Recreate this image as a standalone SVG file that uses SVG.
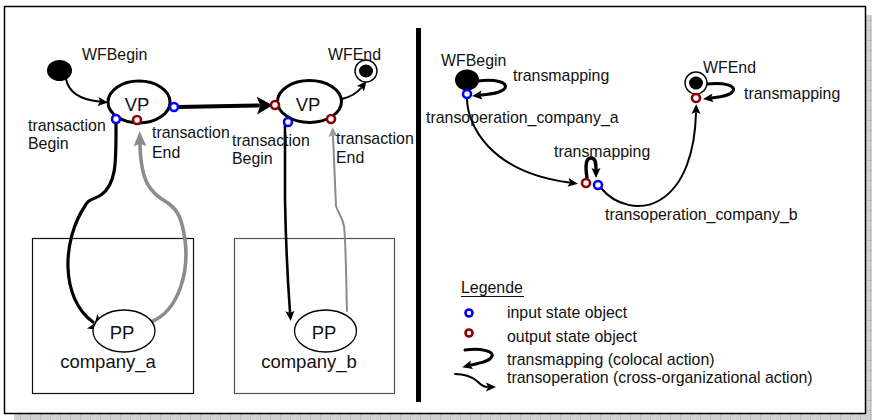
<svg xmlns="http://www.w3.org/2000/svg" width="872" height="420" viewBox="0 0 872 420">
  <style>
    text { font-family: "Liberation Sans", Arial, sans-serif; fill: #111; }
    .t { font-size: 15.9px; }
    .big { font-size: 18.5px; }
    .node { fill: #fff; stroke: #000; }
    .vp { stroke-width: 3; }
    .pp { stroke-width: 1.3; }
    .in { fill: #fff; stroke: #0000ff; stroke-width: 2.6; }
    .out { fill: #fff; stroke: #8b0000; stroke-width: 2.6; }
    .flow { fill: none; stroke: #000; stroke-linecap: round; }
    .gray { fill: none; stroke: #8c8c8c; stroke-linecap: round; }
    .box { fill: none; stroke-width: 1.2; }
  </style>
  <defs>
    <pattern id="hatch" width="10" height="10" patternUnits="userSpaceOnUse">
      <rect width="10" height="10" fill="#d2d2d2"/>
      <path d="M0 0 V10 M0 0 H10" stroke="#a9a9a9" stroke-width="1"/>
      <path d="M5 2 h1 M2 6 h1 M7 7 h1" stroke="#bdbdbd" stroke-width="1"/>
    </pattern>
    <marker id="ah" markerUnits="userSpaceOnUse" markerWidth="14" markerHeight="14" viewBox="0 -7 12 14" refX="1" refY="0" orient="auto">
      <path d="M0 -4.5 L10 0 L0 4.5 L2 0 z" fill="#000"/>
    </marker>
    <marker id="ahBig" markerUnits="userSpaceOnUse" markerWidth="18" markerHeight="20" viewBox="0 -9 16 18" refX="1" refY="0" orient="auto">
      <path d="M0 -8 L14 0 L0 8 L3 0 z" fill="#000"/>
    </marker>
    <marker id="ahGray" markerUnits="userSpaceOnUse" markerWidth="16" markerHeight="16" viewBox="0 -7 15 14" refX="1" refY="0" orient="auto">
      <path d="M0 -6 L14 0 L0 6 L2 0 z" fill="#8c8c8c"/>
    </marker>
    <marker id="ahGrayS" markerUnits="userSpaceOnUse" markerWidth="12" markerHeight="12" viewBox="0 -6 12 12" refX="1" refY="0" orient="auto">
      <path d="M0 -4.5 L10 0 L0 4.5 L2 0 z" fill="#999"/>
    </marker>
  </defs>

  <!-- page frame with drop shadow -->
  <rect x="14" y="414" width="858" height="6" fill="url(#hatch)"/>
  <rect x="866" y="15" width="6" height="405" fill="url(#hatch)"/>
  <rect x="4.5" y="6.5" width="861" height="407" fill="#fff" stroke="#000" stroke-width="1.5"/>
  <rect x="416" y="28" width="5" height="374" fill="#000"/>

  <!-- left panel: process view -->
  <g id="company_a_box">
    <rect class="box" x="32.5" y="238.5" width="161" height="155" stroke="#111"/>
    <text class="big" x="108" y="368" text-anchor="middle">company_a</text>
  </g>
  <g id="company_b_box">
    <rect class="box" x="234.5" y="238.5" width="160" height="155" stroke="#555"/>
    <text class="big" x="309" y="368" text-anchor="middle">company_b</text>
  </g>

  <g id="connectors">
    <path class="flow" stroke-width="2" d="M66 79 C69 94 84 100 99 101.5" marker-end="url(#ah)"/>
    <path class="flow" stroke-width="4" d="M178 107 L258 105.5" marker-end="url(#ahBig)"/>
    <path class="flow" stroke-width="2" d="M342 99 C350 97 357 93 361 88" marker-end="url(#ah)"/>
    <path class="flow" stroke-width="3.2" d="M116 124 C116 160 117 184 101 195 C93 200 88 199 85 206 C62 240 60 298 93 322" marker-end="url(#ahBig)"/>
    <path class="gray" stroke-width="3.6" d="M151 322 C180 310 189 270 185 240 C182 220 179 211 168 203 C150 193 141 182 140 145" marker-end="url(#ahGray)"/>
    <path class="flow" stroke-width="2.6" d="M285 125 L285 200 C286 250 288 285 290 312" marker-end="url(#ah)"/>
    <path class="gray" stroke-width="2" d="M347 311 C346 280 346 242 344 226 C342 216 338 213 336 206 L333 136" marker-end="url(#ahGrayS)"/>

    <!-- right panel flows -->
    <path class="flow" stroke-width="3" d="M478 81 C495 79 508 82 505 88 C502 93 491 94 481 95" marker-end="url(#ah)"/>
    <path class="flow" stroke-width="2" d="M467 98 C467 125 490 172 569 182.5" marker-end="url(#ah)"/>
    <path class="flow" stroke-width="3.4" d="M587 178 C585 165 586 158 591 158 C596 158 596 164 596 169" marker-end="url(#ah)"/>
    <path class="flow" stroke-width="2" d="M601 188 C615 205 640 212 660 200 C685 185 695 150 696 113" marker-end="url(#ah)"/>
    <path class="flow" stroke-width="3" d="M707 84 C725 82 736 86 733 91 C730 96 720 97 712 98" marker-end="url(#ah)"/>
  </g>

  <g id="wfbegin_left">
    <ellipse cx="59.5" cy="70.5" rx="12.5" ry="10.5" fill="#000"/>
    <text class="t" x="82" y="60">WFBegin</text>
  </g>
  <g id="vp1">
    <ellipse class="node vp" cx="139" cy="102" rx="31" ry="21"/>
    <text class="big" x="137" y="111" text-anchor="middle">VP</text>
    <circle class="in" cx="116" cy="119" r="4"/>
    <circle class="out" cx="137" cy="120" r="4"/>
    <circle class="in" cx="174" cy="107" r="4"/>
    <text class="t" x="28" y="131">transaction</text>
    <text class="t" x="28" y="149">Begin</text>
    <text class="t" x="152" y="138">transaction</text>
    <text class="t" x="152" y="158">End</text>
  </g>
  <g id="vp2">
    <ellipse class="node vp" cx="309.5" cy="101.5" rx="32" ry="21"/>
    <text class="big" x="308" y="111" text-anchor="middle">VP</text>
    <circle class="out" cx="275" cy="105" r="4"/>
    <circle class="in" cx="288" cy="122" r="4"/>
    <circle class="out" cx="331" cy="119" r="4"/>
    <text class="t" x="232" y="146">transaction</text>
    <text class="t" x="232" y="164">Begin</text>
    <text class="t" x="336" y="144">transaction</text>
    <text class="t" x="336" y="163">End</text>
  </g>
  <g id="wfend_left">
    <circle cx="366" cy="71" r="11" fill="#fff" stroke="#000" stroke-width="1.4"/>
    <ellipse cx="366" cy="71" rx="7" ry="6.5" fill="#000"/>
    <text class="t" x="328" y="60">WFEnd</text>
  </g>
  <g id="pp_a">
    <ellipse class="node pp" cx="124" cy="331" rx="31" ry="21"/>
    <text class="big" x="122" y="339" text-anchor="middle">PP</text>
  </g>
  <g id="pp_b">
    <ellipse class="node pp" cx="325.5" cy="331" rx="31" ry="21"/>
    <text class="big" x="324" y="339" text-anchor="middle">PP</text>
  </g>

  <!-- right panel: state objects -->
  <g id="wfbegin_right">
    <ellipse cx="467" cy="80" rx="12" ry="10.5" fill="#000"/>
    <circle class="in" cx="467" cy="94" r="4"/>
    <text class="t" x="441" y="66">WFBegin</text>
    <text class="t" x="513" y="81">transmapping</text>
    <text class="t" x="426" y="123">transoperation_company_a</text>
  </g>
  <g id="mid_states">
    <circle class="out" cx="586" cy="183" r="4"/>
    <circle class="in" cx="598" cy="185" r="4"/>
    <text class="t" x="554" y="157">transmapping</text>
    <text class="t" x="605" y="220">transoperation_company_b</text>
  </g>
  <g id="wfend_right">
    <circle cx="696" cy="83" r="11" fill="#fff" stroke="#000" stroke-width="1.4"/>
    <ellipse cx="696" cy="83" rx="7" ry="6.5" fill="#000"/>
    <circle class="out" cx="696" cy="98" r="4"/>
    <text class="t" x="703" y="73">WFEnd</text>
    <text class="t" x="744" y="99">transmapping</text>
  </g>

  <g id="legend">
    <text class="t" x="461" y="293">Legende</text>
    <line x1="461" y1="296.5" x2="524" y2="296.5" stroke="#111" stroke-width="1"/>
    <circle class="in" cx="469" cy="313" r="3.5"/>
    <text class="t" x="507" y="318">input state object</text>
    <circle class="out" cx="469" cy="333" r="3.5"/>
    <text class="t" x="507" y="342">output state object</text>
    <path class="flow" stroke-width="3" d="M465 350 C480 348 494 351 492 356 C490 362 479 363 471 365" marker-end="url(#ah)"/>
    <text class="t" x="507" y="365">transmapping (colocal action)</text>
    <path class="flow" stroke-width="2" d="M455 374 C465 374 472 377 477 381 C481 385 484 387 487 387" marker-end="url(#ah)"/>
    <text class="t" x="507" y="383">transoperation (cross-organizational action)</text>
  </g>
</svg>
